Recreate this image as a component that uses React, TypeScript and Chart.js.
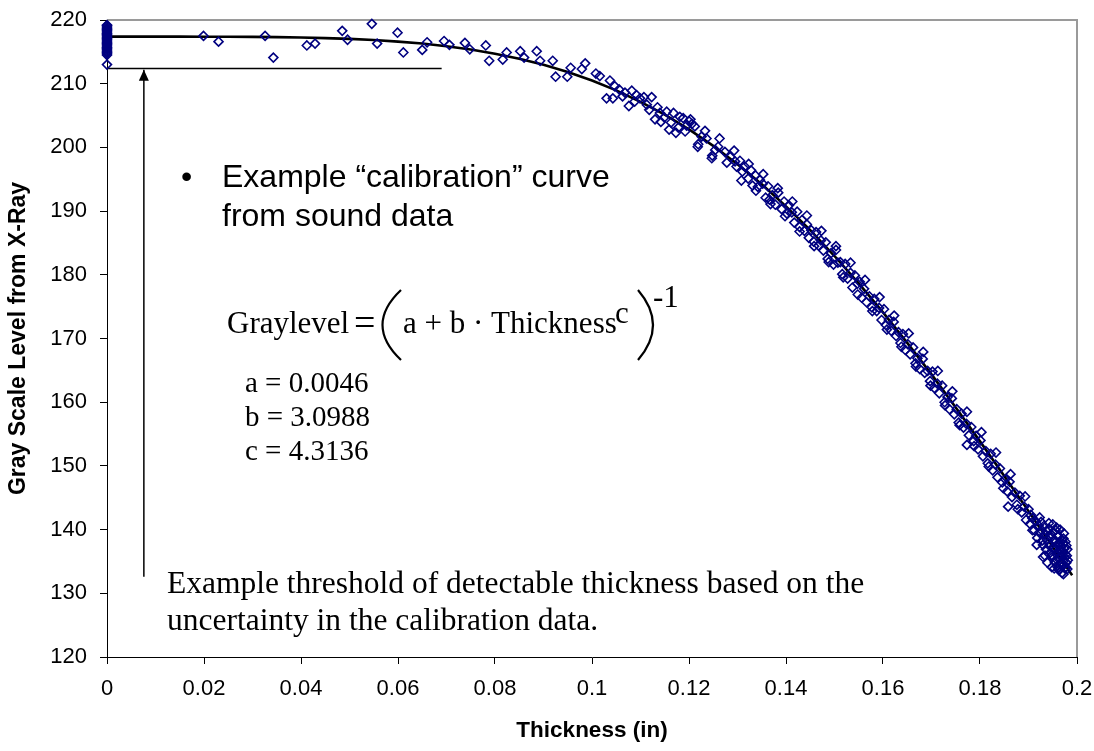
import React, { useEffect, useRef } from "react";
import { Chart, registerables } from "chart.js";

Chart.register(...registerables);

const X_TICKS = [0, 0.02, 0.04, 0.06, 0.08, 0.1, 0.12, 0.14, 0.16, 0.18, 0.2];
const Y_TICKS = [120, 130, 140, 150, 160, 170, 180, 190, 200, 210, 220];

// Gray levels recorded at zero thickness (the stacked column at x = 0)
const ZERO_THICKNESS_GRAY = [
  213.0, 214.5, 214.7, 214.9, 215.1, 215.3, 215.5, 215.7, 215.9, 216.1, 216.3, 216.5,
  216.7, 216.9, 217.1, 217.3, 217.5, 217.7, 217.9, 218.1, 218.3, 218.5, 218.7, 218.9, 219.1, 219.2,
];

// Sound data samples: [thickness (in), gray level]
const SOUND_SAMPLES: [number, number][] = [
  [0.0199, 217.5], [0.023, 216.6], [0.0326, 217.5], [0.0343, 214.1], [0.0412, 216.0], [0.0429, 216.3],
  [0.0485, 218.3], [0.0496, 216.9], [0.0546, 219.4], [0.0557, 216.3], [0.0599, 218.0], [0.0611, 214.9],
  [0.065, 215.3], [0.066, 216.5], [0.0695, 216.7], [0.0706, 216.1], [0.0738, 216.4], [0.0748, 215.4],
  [0.0781, 216.0], [0.0788, 213.6], [0.0816, 213.8], [0.0824, 214.9], [0.0852, 215.1], [0.086, 214.1],
  [0.0886, 215.1], [0.0893, 213.6], [0.0919, 213.6], [0.0925, 211.1], [0.0949, 211.1], [0.0956, 212.5],
  [0.0979, 212.3], [0.0986, 213.2], [0.1008, 211.6], [0.1016, 211.2], [0.1037, 210.5], [0.103, 207.7],
  [0.1043, 207.7], [0.1056, 209.1], [0.1063, 208.0], [0.1076, 206.5], [0.1082, 208.9], [0.1092, 208.2],
  [0.1099, 207.7], [0.1113, 206.7], [0.1123, 207.9], [0.113, 204.4], [0.114, 205.4], [0.1142, 204.0],
  [0.1154, 205.6], [0.1159, 202.8], [0.1168, 205.4], [0.1173, 202.3], [0.1181, 204.8], [0.1188, 204.6],
  [0.1195, 203.4], [0.1206, 203.7], [0.1212, 203.3], [0.1219, 200.5], [0.1226, 201.7], [0.1236, 201.4],
  [0.1247, 198.3], [0.1254, 199.6], [0.126, 200.1], [0.1274, 199.3], [0.1285, 198.5], [0.1295, 197.8],
  [0.1298, 197.0],
  [0.1047, 209.6], [0.1068, 208.6], [0.1088, 207.2], [0.1107, 207.9], [0.1118, 205.9], [0.1135, 206.3],
  [0.1149, 204.7], [0.1163, 203.9], [0.1178, 203.1], [0.1192, 202.5], [0.12, 204.1],
  [0.1305, 197.9], [0.131, 196.2], [0.1315, 197.0], [0.1322, 195.1], [0.1328, 196.4], [0.1331, 194.0],
  [0.1337, 195.6], [0.1342, 193.8], [0.1346, 194.9], [0.1352, 194.3], [0.1358, 192.1], [0.1363, 193.9],
  [0.1366, 191.8], [0.1372, 192.5], [0.1378, 191.0], [0.1384, 192.9], [0.1391, 190.3], [0.1396, 191.5],
  [0.1402, 189.6], [0.1406, 190.9], [0.1412, 189.8], [0.1417, 188.2], [0.1423, 189.9], [0.1428, 187.5],
  [0.1433, 188.6], [0.1438, 186.9], [0.1443, 187.9], [0.1447, 185.8], [0.1452, 187.0], [0.1457, 185.2],
  [0.1462, 186.7], [0.1467, 184.6], [0.1472, 185.4], [0.1477, 183.8], [0.1482, 185.1], [0.1486, 182.5],
  [0.1493, 183.4], [0.1498, 181.6], [0.1503, 183.9], [0.1507, 181.9], [0.1512, 182.0], [0.1516, 180.1],
  [0.1522, 181.7], [0.1527, 179.4], [0.1533, 180.3], [0.1537, 178.0], [0.1542, 179.9], [0.1547, 178.6],
  [0.1552, 178.9], [0.1556, 176.4], [0.1561, 177.8], [0.1566, 175.7], [0.1572, 176.6], [0.1577, 174.9],
  [0.1582, 176.2], [0.1587, 174.3], [0.1592, 174.8], [0.1597, 172.9], [0.1602, 174.6], [0.1606, 172.1],
  [0.1612, 172.9], [0.1617, 171.2], [0.1622, 172.6], [0.1627, 170.4], [0.1632, 171.0], [0.1636, 169.3],
  [0.1641, 170.7], [0.1646, 168.2], [0.1651, 169.1], [0.1656, 167.5], [0.1662, 168.6], [0.1667, 166.1],
  [0.1671, 166.9], [0.1676, 165.2], [0.1682, 166.8], [0.1686, 164.6], [0.1692, 164.9], [0.1697, 163.3],
  [0.1702, 164.8], [0.1706, 162.2], [0.1712, 162.9], [0.1716, 161.4], [0.1722, 162.6], [0.1727, 160.0],
  [0.1733, 160.8], [0.1737, 158.9], [0.1742, 160.6], [0.1747, 158.1], [0.1752, 158.9], [0.1756, 156.8],
  [0.1762, 158.2], [0.1766, 156.0], [0.1773, 153.3], [0.1772, 156.6], [0.1777, 154.8], [0.1782, 156.1],
  [0.1787, 153.9], [0.1792, 154.7], [0.1796, 152.6], [0.1801, 154.0], [0.1806, 151.5], [0.1812, 152.3],
  [0.1816, 150.4], [0.1822, 151.9], [0.1826, 149.3], [0.1832, 150.2], [0.1836, 148.2], [0.1841, 149.6],
  [0.1846, 147.4], [0.1852, 147.9], [0.1856, 146.0], [0.1858, 143.6], [0.1861, 147.5], [0.1866, 145.1],
  [0.1872, 145.8], [0.1876, 143.9], [0.1882, 145.3], [0.1886, 142.7], [0.1891, 143.6], [0.1895, 141.5],
  [0.19, 143.2], [0.1903, 140.9], [0.1905, 142.3], [0.1908, 141.8], [0.1912, 139.9], [0.1915, 141.3],
  [0.1917, 137.6], [0.1918, 138.7], [0.1921, 140.6], [0.1924, 139.4], [0.1927, 139.9], [0.193, 137.6],
  [0.193, 135.7], [0.1933, 139.2], [0.1936, 136.9], [0.1938, 138.5], [0.1941, 137.9], [0.1943, 140.1],
  [0.1945, 136.4], [0.1947, 138.8], [0.1948, 134.1], [0.1949, 135.7], [0.1951, 139.6], [0.1952, 137.1],
  [0.1954, 134.9], [0.1955, 138.3], [0.1957, 136.2], [0.1958, 140.3], [0.1959, 134.2], [0.196, 137.6],
  [0.1961, 135.5], [0.1962, 139.0], [0.1963, 133.6], [0.1964, 136.8], [0.1965, 138.1], [0.1966, 134.7],
  [0.1967, 137.3], [0.1968, 135.9], [0.1969, 133.2], [0.197, 136.5], [0.1971, 134.3], [0.1972, 138.6],
  [0.1973, 135.1], [0.1974, 137.0], [0.1975, 133.9], [0.1976, 136.1], [0.1978, 134.8], [0.198, 136.9],
];

// Second pass of sound data samples (wider spread around the curve)
const SOUND_SAMPLES_B: [number, number][] = [
  [0.1203, 204.4], [0.1218, 200.1], [0.1233, 202.6], [0.1248, 198.7], [0.1263, 201.4], [0.1278, 197.6],
  [0.1293, 199.5], [0.1308, 194.8], [0.1323, 197.4], [0.1338, 193.2], [0.1353, 195.8], [0.1368, 191.1],
  [0.1383, 193.6], [0.1398, 189.2], [0.1413, 191.5], [0.1428, 186.8], [0.1443, 189.3], [0.1458, 184.5],
  [0.1473, 186.9], [0.1488, 182.0], [0.1503, 184.5], [0.1518, 179.6], [0.1533, 181.9], [0.1548, 176.9],
  [0.1563, 179.2], [0.1578, 174.3], [0.1593, 176.5], [0.1608, 171.4], [0.1623, 173.6], [0.1638, 168.7],
  [0.1653, 170.8], [0.1668, 165.6], [0.1683, 167.9], [0.1698, 162.6], [0.1713, 164.9], [0.1728, 159.5],
  [0.1743, 161.7], [0.1758, 156.4], [0.1773, 158.5], [0.1788, 153.1], [0.1803, 155.3], [0.1818, 149.9],
  [0.1833, 152.1], [0.1848, 146.5], [0.1863, 148.7], [0.1878, 143.2], [0.1893, 145.2], [0.1908, 139.9],
  [0.1923, 141.9],
  [0.1926, 141.2], [0.1929, 138.3], [0.1932, 140.6], [0.1934, 135.9], [0.1937, 139.8], [0.1939, 134.8],
  [0.1942, 141.0], [0.1944, 137.4], [0.1946, 139.3], [0.1948, 136.0], [0.195, 140.8], [0.1953, 133.9],
  [0.1955, 136.9], [0.1956, 139.9], [0.1958, 135.3], [0.196, 138.9], [0.1962, 134.0], [0.1963, 137.9],
  [0.1965, 140.0], [0.1966, 135.8], [0.1968, 138.4], [0.1969, 134.6], [0.1971, 137.8], [0.1972, 133.0],
  [0.1973, 139.4], [0.1975, 135.6], [0.1976, 138.1], [0.1977, 134.1], [0.1978, 137.5], [0.1979, 135.9],
  [0.198, 133.8], [0.1981, 135.2],
];

// Calibration fit curve read along the thickness axis
const FIT_THICKNESS = [
  0, 0.005, 0.01, 0.015, 0.02, 0.025, 0.03, 0.035, 0.04, 0.045, 0.05, 0.055, 0.06, 0.065, 0.07,
  0.075, 0.08, 0.085, 0.09, 0.095, 0.1, 0.105, 0.11, 0.115, 0.12, 0.125, 0.13, 0.135, 0.14, 0.145,
  0.15, 0.155, 0.16, 0.165, 0.17, 0.175, 0.18, 0.185, 0.19, 0.195, 0.199,
];
const FIT_GRAY = [
  217.39, 217.39, 217.39, 217.39, 217.38, 217.37, 217.35, 217.31, 217.25, 217.16, 217.03, 216.86,
  216.61, 216.3, 215.88, 215.36, 214.71, 213.93, 212.97, 211.85, 210.5, 208.96, 207.16, 205.13,
  202.82, 200.24, 197.37, 194.21, 190.74, 187.01, 182.95, 178.66, 174.11, 169.31, 164.37, 159.17,
  153.85, 148.43, 142.9, 137.29, 132.82,
];

// Threshold line and arrow
const THRESHOLD_THICKNESS = [0, 0.069];
const THRESHOLD_GRAY = 212.4;
const ARROW_THICKNESS = 0.0076;
const ARROW_GRAY = [132.6, 212.2];

const NAVY = "#000080";
const SANS = '"Liberation Sans", Arial, sans-serif';
const SERIF = '"Liberation Serif", "Times New Roman", serif';

export default function App() {
  const ref = useRef<HTMLCanvasElement>(null);

  useEffect(() => {
    const canvas = ref.current;
    if (!canvas) return;

    const samples = [
      ...ZERO_THICKNESS_GRAY.map((g) => ({ x: 0, y: g })),
      ...SOUND_SAMPLES.map(([t, g]) => ({ x: t, y: g })),
      ...SOUND_SAMPLES_B.map(([t, g]) => ({ x: t, y: g })),
    ];
    const fit = FIT_THICKNESS.map((t, i) => ({ x: t, y: FIT_GRAY[i] }));
    const threshold = THRESHOLD_THICKNESS.map((t) => ({ x: t, y: THRESHOLD_GRAY }));
    const arrow = ARROW_GRAY.map((g) => ({ x: ARROW_THICKNESS, y: g }));

    const frame = {
      id: "frame",
      beforeDatasetsDraw(chart: any) {
        const { ctx, chartArea } = chart;
        ctx.save();
        ctx.strokeStyle = "#9a9a9a";
        ctx.lineWidth = 2;
        ctx.beginPath();
        ctx.moveTo(chartArea.left, chartArea.top);
        ctx.lineTo(chartArea.right, chartArea.top);
        ctx.lineTo(chartArea.right, chartArea.bottom);
        ctx.stroke();
        ctx.restore();
      },
    };

    const annotations = {
      id: "annotations",
      afterDatasetsDraw(chart: any) {
        const { ctx } = chart;
        const xs = chart.scales.x;
        const ys = chart.scales.y;
        ctx.save();
        // arrow head
        const ax = xs.getPixelForValue(ARROW_THICKNESS);
        const ay = ys.getPixelForValue(ARROW_GRAY[1]);
        ctx.fillStyle = "#000";
        ctx.beginPath();
        ctx.moveTo(ax, ay);
        ctx.lineTo(ax - 5, ay + 11);
        ctx.lineTo(ax + 5, ay + 11);
        ctx.closePath();
        ctx.fill();

        ctx.textBaseline = "alphabetic";
        ctx.textAlign = "left";
        // bullet text
        ctx.font = `32px ${SANS}`;
        ctx.fillText("•", 181, 187);
        ctx.fillText("Example “calibration” curve", 222, 187);
        ctx.fillText("from sound data", 222, 226);

        // formula
        ctx.font = `31px ${SERIF}`;
        ctx.fillText("Graylevel", 227, 333);
        ctx.fillText("a + b · Thickness", 403, 333);
        ctx.fillText("c", 615, 323);
        ctx.fillText("-1", 653, 307);
        ctx.font = `38px ${SERIF}`;
        ctx.fillText("=", 354, 335);
        ctx.strokeStyle = "#000";
        ctx.lineWidth = 2.2;
        ctx.beginPath();
        ctx.moveTo(401, 290);
        ctx.quadraticCurveTo(364, 325, 401, 360);
        ctx.stroke();
        ctx.beginPath();
        ctx.moveTo(638, 290);
        ctx.quadraticCurveTo(668, 325, 638, 360);
        ctx.stroke();

        ctx.font = `29px ${SERIF}`;
        ctx.fillText("a = 0.0046", 245, 392);
        ctx.fillText("b = 3.0988", 245, 426);
        ctx.fillText("c = 4.3136", 245, 460);

        ctx.font = `31.5px ${SERIF}`;
        ctx.fillText("Example threshold of detectable thickness based on the", 167, 593);
        ctx.fillText("uncertainty in the calibration data.", 167, 630);
        ctx.restore();
      },
    };

    const chart = new Chart(canvas, {
      type: "scatter",
      data: {
        datasets: [
          {
            label: "Sound data",
            data: samples,
            pointStyle: "rectRot",
            pointRadius: 4.5,
            pointBorderWidth: 1.6,
            borderColor: NAVY,
            pointBorderColor: NAVY,
            backgroundColor: "rgba(255,255,255,0)",
            pointBackgroundColor: "rgba(255,255,255,0)",
            showLine: false,
            clip: false,
            order: 0,
          },
          {
            label: "Fit",
            data: fit,
            showLine: true,
            borderColor: "#000",
            borderWidth: 2.6,
            pointRadius: 0,
            tension: 0,
            order: 1,
          },
          {
            label: "Threshold",
            data: threshold,
            showLine: true,
            borderColor: "#000",
            borderWidth: 1.5,
            pointRadius: 0,
            order: 2,
          },
          {
            label: "Arrow",
            data: arrow,
            showLine: true,
            borderColor: "#000",
            borderWidth: 1.5,
            pointRadius: 0,
            order: 2,
          },
        ],
      },
      options: {
        responsive: false,
        animation: false,
        devicePixelRatio: 1,
        layout: { autoPadding: false, padding: { left: 0, top: 20, right: 17, bottom: 0 } },
        plugins: { legend: { display: false }, tooltip: { enabled: false } },
        scales: {
          x: {
            type: "linear",
            min: 0,
            max: 0.2,
            afterBuildTicks: (s: any) => {
              s.ticks = X_TICKS.map((v) => ({ value: v }));
            },
            afterFit: (s: any) => {
              s.height = 94;
              s.paddingLeft = 0;
              s.paddingRight = 0;
            },
            grid: { drawOnChartArea: false, drawTicks: true, tickLength: 7, color: "#000", lineWidth: 1 },
            border: { display: true, color: "#000", width: 1 },
            ticks: {
              color: "#000",
              font: { family: SANS, size: 22 },
              padding: 12,
              maxRotation: 0,
              autoSkip: false,
              callback: (v: any) => String(Number(Number(v).toFixed(2))),
            },
            title: {
              display: true,
              text: "Thickness (in)",
              color: "#000",
              font: { family: SANS, size: 22.5, weight: "bold" },
              padding: { top: 0, bottom: 7 },
            },
          },
          y: {
            type: "linear",
            min: 120,
            max: 220,
            afterBuildTicks: (s: any) => {
              s.ticks = Y_TICKS.map((v) => ({ value: v }));
            },
            afterFit: (s: any) => {
              s.width = 107;
              s.paddingTop = 0;
              s.paddingBottom = 0;
            },
            grid: { drawOnChartArea: false, drawTicks: true, tickLength: 7, color: "#000", lineWidth: 1 },
            border: { display: true, color: "#000", width: 1 },
            ticks: {
              color: "#000",
              font: { family: SANS, size: 22 },
              padding: 13,
              autoSkip: false,
            },
            title: {
              display: true,
              text: "Gray Scale Level from X-Ray",
              color: "#000",
              font: { family: SANS, size: 23, weight: "bold" },
              padding: { top: 5, bottom: 0 },
            },
          },
        },
      },
      plugins: [frame, annotations],
    } as any);

    return () => chart.destroy();
  }, []);

  return (
    <div style={{ position: "absolute", left: 0, top: 0, width: 1094, height: 751, background: "#fff" }}>
      <canvas ref={ref} width={1094} height={751} style={{ display: "block" }} />
    </div>
  );
}
